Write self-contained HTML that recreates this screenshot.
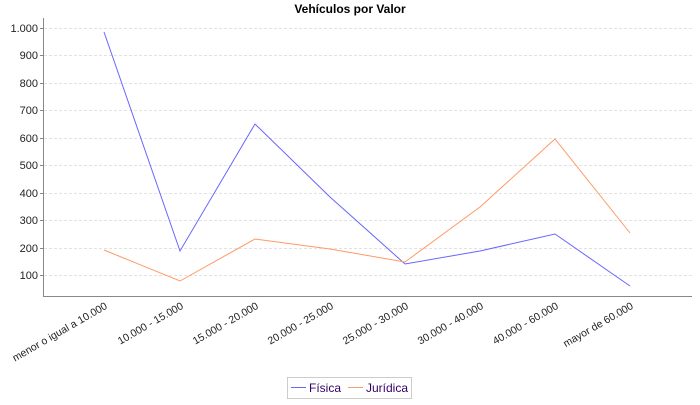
<!DOCTYPE html>
<html><head><style>
body{margin:0;background:#fff;font-family:"Liberation Sans","DejaVu Sans",sans-serif}
</style></head><body>
<svg width="700" height="400" xmlns="http://www.w3.org/2000/svg" font-family="Liberation Sans, DejaVu Sans, sans-serif">
<text x="350" y="13" text-anchor="middle" font-size="12" font-weight="bold">Vehículos por Valor</text>
<g stroke="#e2e2e2" stroke-dasharray="3,2" stroke-width="1">
<line x1="44" x2="692" y1="28.5" y2="28.5"/><line x1="44" x2="692" y1="55.5" y2="55.5"/>
<line x1="44" x2="692" y1="83.5" y2="83.5"/><line x1="44" x2="692" y1="110.5" y2="110.5"/>
<line x1="44" x2="692" y1="138.5" y2="138.5"/><line x1="44" x2="692" y1="165.5" y2="165.5"/>
<line x1="44" x2="692" y1="193.5" y2="193.5"/><line x1="44" x2="692" y1="220.5" y2="220.5"/>
<line x1="44" x2="692" y1="248.5" y2="248.5"/><line x1="44" x2="692" y1="275.5" y2="275.5"/>
</g>
<g font-size="11" text-anchor="end" fill="#222">
<text x="38" y="32">1.000</text><text x="38" y="59">900</text><text x="38" y="87">800</text>
<text x="38" y="114">700</text><text x="38" y="142">600</text><text x="38" y="169">500</text>
<text x="38" y="197">400</text><text x="38" y="224">300</text><text x="38" y="252">200</text>
<text x="38" y="279">100</text>
</g>
<g stroke="#888" stroke-width="1">
<line x1="43.5" y1="18" x2="43.5" y2="297"/><line x1="43" y1="296.5" x2="692" y2="296.5"/>
<line x1="40" x2="43" y1="28.5" y2="28.5"/><line x1="40" x2="43" y1="55.5" y2="55.5"/><line x1="40" x2="43" y1="83.5" y2="83.5"/><line x1="40" x2="43" y1="110.5" y2="110.5"/><line x1="40" x2="43" y1="138.5" y2="138.5"/><line x1="40" x2="43" y1="165.5" y2="165.5"/><line x1="40" x2="43" y1="193.5" y2="193.5"/><line x1="40" x2="43" y1="220.5" y2="220.5"/><line x1="40" x2="43" y1="248.5" y2="248.5"/><line x1="40" x2="43" y1="275.5" y2="275.5"/>
</g>
<polyline fill="none" stroke="#6666ff" stroke-width="1" points="104,32 180,251 255,124 330,197 405,264 480,251 555,234 630,286"/>
<polyline fill="none" stroke="#ff9966" stroke-width="1" points="104,250 180,281 255,239 330,249 405,262 480,207 555,139 630,233"/>
<g font-size="10.5" text-anchor="end" fill="#222">
<text transform="translate(108,308) rotate(-30)">menor o igual a 10.000</text>
<text transform="translate(184,308) rotate(-30)">10.000 - 15.000</text>
<text transform="translate(259,308) rotate(-30)">15.000 - 20.000</text>
<text transform="translate(334,308) rotate(-30)">20.000 - 25.000</text>
<text transform="translate(409,308) rotate(-30)">25.000 - 30.000</text>
<text transform="translate(484,308) rotate(-30)">30.000 - 40.000</text>
<text transform="translate(559,308) rotate(-30)">40.000 - 60.000</text>
<text transform="translate(634,308) rotate(-30)">mayor de 60.000</text>
</g>
<rect x="287.5" y="377.5" width="124" height="21" fill="#fff" stroke="#ccc"/>
<line x1="291" x2="306" y1="387.5" y2="387.5" stroke="#6666ff"/>
<text x="309" y="392" font-size="12" fill="#330066">Física</text>
<line x1="348" x2="363" y1="387.5" y2="387.5" stroke="#ff9966"/>
<text x="366" y="392" font-size="12" fill="#330066">Jurídica</text>
</svg>
</body></html>
